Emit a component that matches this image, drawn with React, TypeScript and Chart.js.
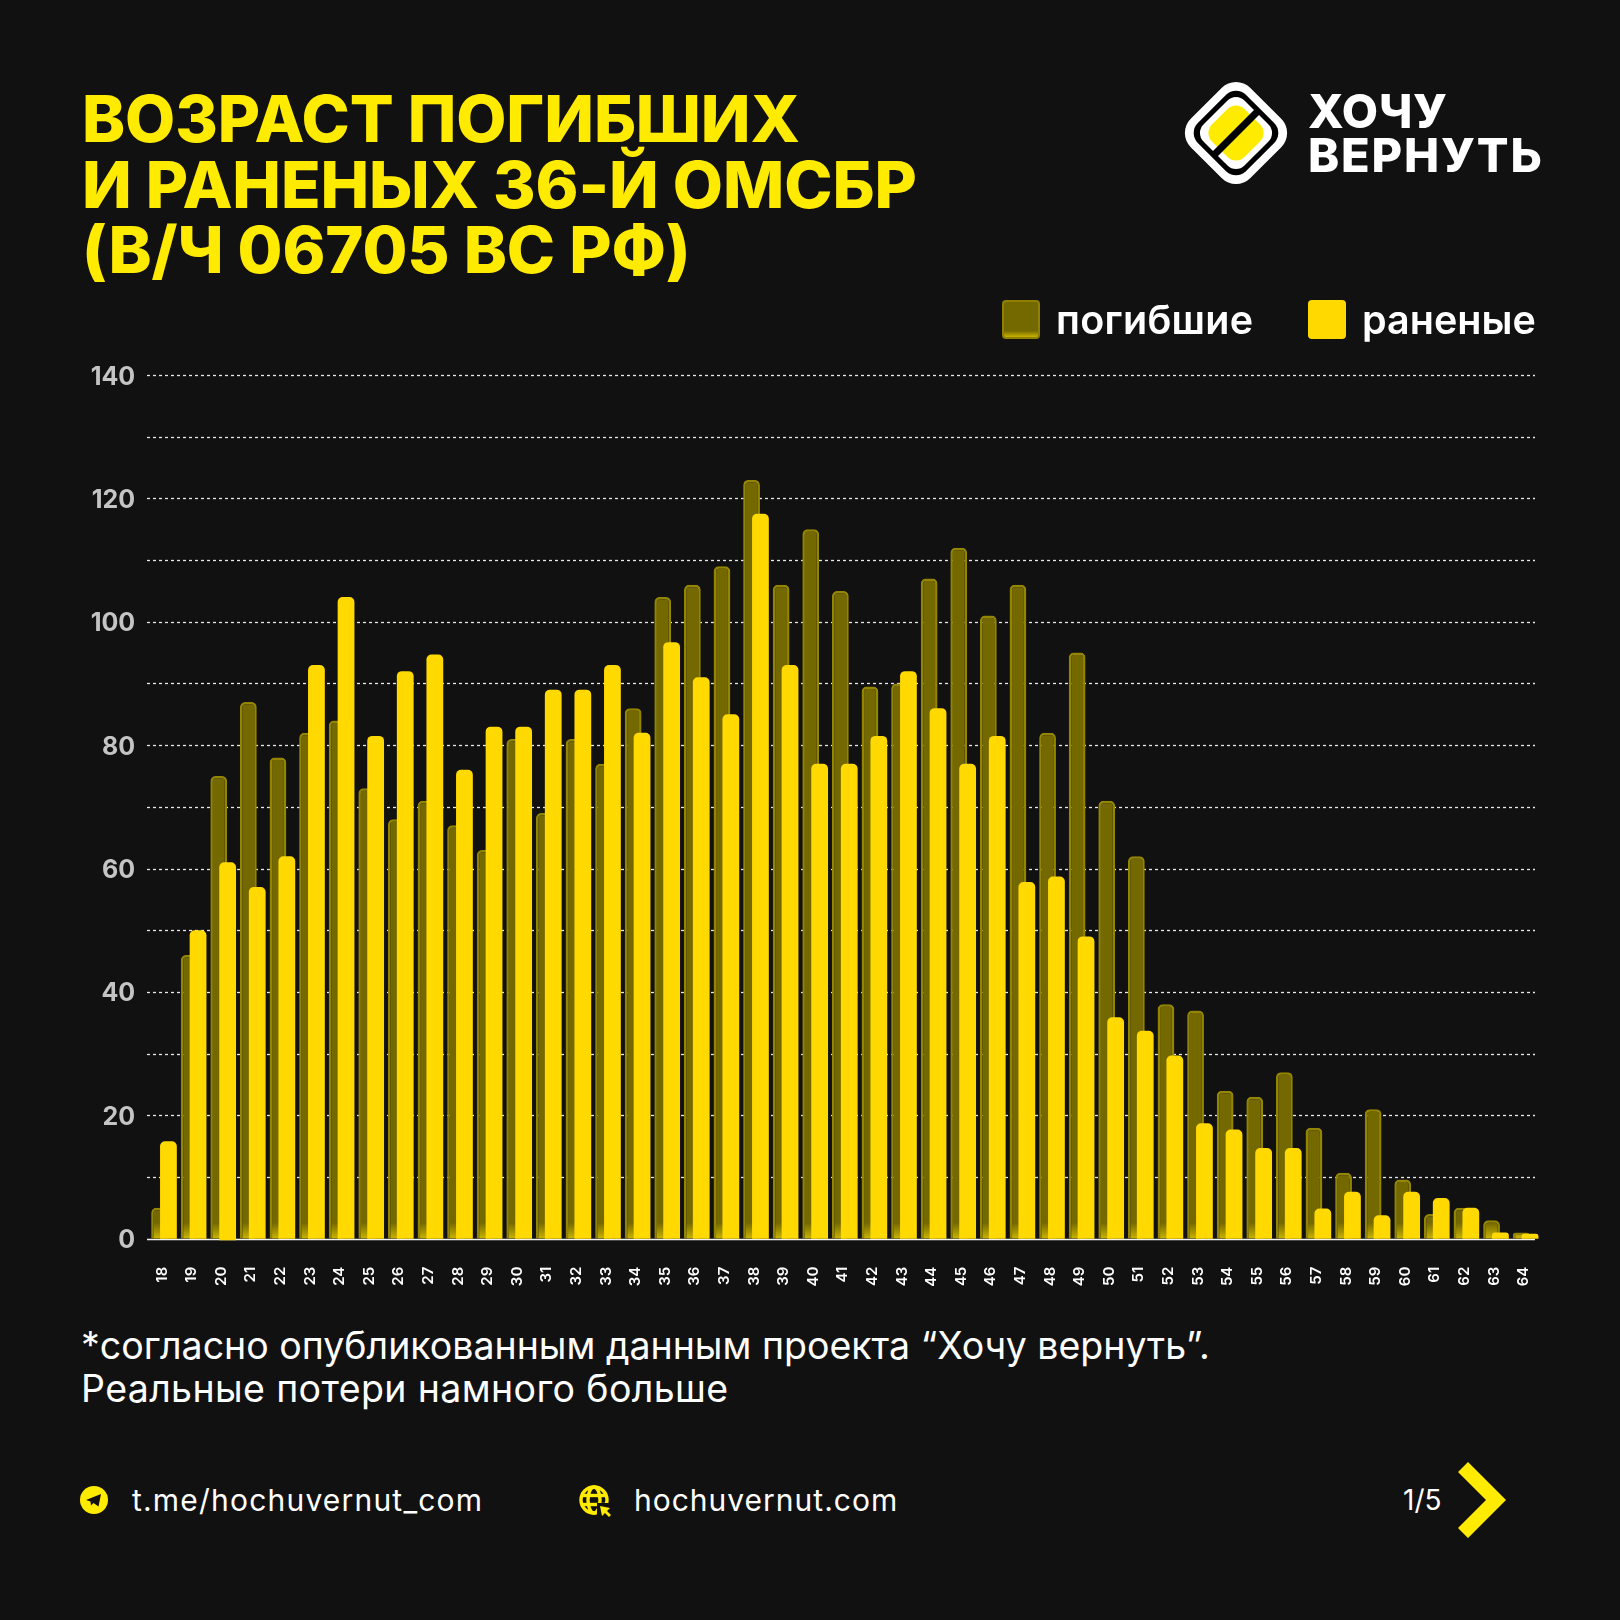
import React, { useEffect, useRef } from "react";
import { Chart, registerables } from "chart.js";

Chart.register(...registerables);

const ages = ["18","19","20","21","22","23","24","25","26","27","28","29","30","31","32","33","34","35","36","37","38","39","40","41","42","43","44","45","46","47","48","49","50","51","52","53","54","55","56","57","58","59","60","61","62","63","64"];
const killed = [5,46,75,87,78,82,84,73,68,71,67,63,81,69,81,77,86,104,106,109,123,106,115,105,89.5,90,107,112,101,106,82,95,71,62,38,37,24,23,27,18,10.7,21,9.6,4,5,3,1];
const wounded = [15.8,50,61,57,62,93,104,81.5,92,94.7,76,83,83,89,89,93,82,96.7,91,85,117.5,93,77,77,81.5,92,86,77,81.5,57.8,58.7,49,35.9,33.7,29.7,18.7,17.7,14.7,14.7,4.9,7.6,3.8,7.6,6.6,5,1,0.8];
const yTickStep = 10;
const yMax = 140;
const titleLines = ["ВОЗРАСТ ПОГИБШИХ", "И РАНЕНЫХ 36-Й ОМСБР", "(В/Ч 06705 ВС РФ)"];
const noteLines = ["*согласно опубликованным данным проекта “Хочу вернуть”.", "Реальные потери намного больше"];
const legendNames = ["погибшие", "раненые"];

const BG = "#111111";
const YELLOW = "#FFD900";
const TITLE_YELLOW = "#FFEB00";
const FONT = "Inter, 'Noto Sans', sans-serif";

const woundedBars = wounded.map((v, i) => (ages[i] === "20" ? [-0.25, v] : v));

const gridPlugin = {
  id: "shortGrid",
  beforeDatasetsDraw(chart: any) {
    const { ctx, scales } = chart;
    const y = scales.y;
    ctx.save();
    y.ticks.forEach((t: any) => {
      const py = Math.round(y.getPixelForValue(t.value)) + 0.5;
      ctx.beginPath();
      ctx.lineWidth = 1.3;
      if (t.value === 0) {
        ctx.setLineDash([]);
        ctx.strokeStyle = "#f2f2f2";
        ctx.lineWidth = 1.5;
      } else {
        ctx.setLineDash([3, 3]);
        ctx.strokeStyle = "#e8e8e8";
      }
      ctx.moveTo(147, py);
      ctx.lineTo(1535, py);
      ctx.stroke();
    });
    ctx.restore();
  },
  // Chart.js paints the first (left) dataset last; the wounded bars must stay on top.
  beforeDatasetDraw(_chart: any, args: any) {
    if (args.index === 1) return false;
  },
  afterDatasetsDraw(chart: any) {
    chart.getDatasetMeta(1).controller.draw();
  },
};

function Text({ style, children }: any) {
  return <div style={{ position: "absolute", whiteSpace: "nowrap", fontFamily: FONT, ...style }}>{children}</div>;
}

function Swatch({ left, dark }: { left: number; dark: boolean }) {
  return (
    <div
      style={{
        position: "absolute",
        left,
        top: 300,
        width: 38,
        height: 39,
        borderRadius: 4,
        boxSizing: "border-box",
        background: dark ? "linear-gradient(#746800 82%, #c9b400 100%)" : YELLOW,
        border: dark ? "2px solid #8f8000" : "none",
      }}
    />
  );
}

function LogoRect({ s, r, fill }: { s: number; r: number; fill: string }) {
  return <rect x={60 - s / 2} y={60 - s / 2} width={s} height={s} rx={r} transform="rotate(45 60 60)" fill={fill} />;
}

export default function App() {
  const ref = useRef<HTMLCanvasElement | null>(null);
  useEffect(() => {
    document.body.style.margin = "0";
    document.body.style.background = BG;
    const chart = new Chart(ref.current as HTMLCanvasElement, {
      type: "bar",
      data: {
        labels: ages,
        datasets: [
          {
            label: legendNames[0],
            data: killed,
            backgroundColor: (c: any) => {
              const area = c.chart.chartArea;
              if (!area) return "#746800";
              const g = c.chart.ctx.createLinearGradient(0, area.bottom - 16, 0, area.bottom);
              g.addColorStop(0, "#746800");
              g.addColorStop(1, "#c9b400");
              return g;
            },
            borderColor: "#948500",
            borderWidth: 2.5,
            borderSkipped: "bottom",
            borderRadius: { topLeft: 5, topRight: 5, bottomLeft: 0, bottomRight: 0 },
          },
          {
            label: legendNames[1],
            data: woundedBars,
            backgroundColor: YELLOW,
            borderWidth: 0,
            borderSkipped: false,
            borderRadius: { topLeft: 5, topRight: 5, bottomLeft: 0, bottomRight: 0 },
          },
        ],
      },
      options: {
        responsive: false,
        animation: false,
        devicePixelRatio: 1,
        layout: { padding: { left: 0, right: 79.6, top: 375, bottom: 0 } },
        datasets: { bar: { categoryPercentage: 0.6, barPercentage: 1.89 } },
        plugins: { legend: { display: false }, tooltip: { enabled: false } },
        scales: {
          x: {
            grid: { display: false },
            border: { display: false },
            afterFit: (s: any) => { s.height = 61.3; },
            ticks: {
              color: "#ffffff",
              font: { family: FONT, size: 15, weight: "600" },
              minRotation: 90,
              maxRotation: 90,
              autoSkip: false,
              padding: 20,
              labelOffset: -2,
            },
          },
          y: {
            min: 0,
            max: yMax,
            grid: { display: false },
            border: { display: false },
            afterFit: (s: any) => { s.width = 149.2; },
            ticks: {
              stepSize: yTickStep,
              autoSkip: false,
              color: "#c4c4c4",
              padding: 6,
              labelOffset: 2,
              font: { family: FONT, size: 25, weight: "700" },
              callback: (v: any) => (Number(v) % 20 === 0 ? String(v) : ""),
            },
          },
        },
      },
      plugins: [gridPlugin],
    } as any);
    return () => chart.destroy();
  }, []);

  return (
    <div style={{ position: "relative", width: 1620, height: 1620, background: BG, overflow: "hidden" }}>
      <canvas ref={ref} width={1620} height={1300} style={{ position: "absolute", left: 0, top: 0, display: "block" }} />

      {titleLines.map((t, i) => (
        <Text key={t} style={{ left: 82, top: 83 + i * 65.5, fontSize: 65, lineHeight: "72px", fontWeight: 800, color: TITLE_YELLOW, letterSpacing: -0.1 }}>{t}</Text>
      ))}

      <svg style={{ position: "absolute", left: 1176, top: 73 }} width={120} height={120} viewBox="0 0 120 120">
        <LogoRect s={84} r={20} fill="#fff" />
        <LogoRect s={68} r={14} fill="#000" />
        <LogoRect s={58} r={12} fill="#fff" />
        <LogoRect s={46} r={12} fill={TITLE_YELLOW} />
        <line x1={39} y1={81} x2={81} y2={39} stroke="#000" strokeWidth={7} />
      </svg>
      <Text style={{ left: 1308, top: 86, fontSize: 47, lineHeight: "50px", fontWeight: 800, color: "#fff", letterSpacing: 0.8 }}>ХОЧУ</Text>
      <Text style={{ left: 1308, top: 130, fontSize: 47, lineHeight: "50px", fontWeight: 800, color: "#fff", letterSpacing: 1.8 }}>ВЕРНУТЬ</Text>

      <Swatch left={1002} dark />
      <Text style={{ left: 1056, top: 298, fontSize: 39.5, lineHeight: "44px", fontWeight: 600, color: "#fff", letterSpacing: 0.3 }}>{legendNames[0]}</Text>
      <Swatch left={1308} dark={false} />
      <Text style={{ left: 1362, top: 298, fontSize: 39.5, lineHeight: "44px", fontWeight: 600, color: "#fff" }}>{legendNames[1]}</Text>

      {noteLines.map((t, i) => (
        <Text key={t} style={{ left: 81, top: 1322 + i * 43, fontSize: 37.5, lineHeight: "48px", fontWeight: 400, color: "#fff", letterSpacing: i === 1 ? 0.38 : 0 }}>{t}</Text>
      ))}

      <svg style={{ position: "absolute", left: 80, top: 1486 }} width={28} height={28} viewBox="0 0 28 28">
        <circle cx="14" cy="14" r="14" fill={TITLE_YELLOW} />
        <path d="M6 14 L21 8 L18.5 20.5 L13.5 17 L11 19.5 L10.5 15.5 Z" fill={BG} />
      </svg>
      <Text style={{ left: 132, top: 1480, fontSize: 30, lineHeight: "40px", color: "#fff", letterSpacing: 1.2 }}>t.me/hochuvernut_com</Text>

      <svg style={{ position: "absolute", left: 579, top: 1485 }} width={34} height={34} viewBox="0 0 34 34">
        <g fill="none" stroke={TITLE_YELLOW} strokeWidth={3.4}>
          <circle cx="15" cy="15" r="13" />
          <ellipse cx="15" cy="15" rx="6" ry="13" />
          <line x1="2" y1="10.5" x2="28" y2="10.5" />
          <line x1="2" y1="19.5" x2="28" y2="19.5" />
        </g>
        <rect x="18" y="18" width="16" height="16" fill={BG} />
        <path d="M21 21 L31 23 L28 26 L32 30 L30 32 L26 28 L23 31 Z" fill={TITLE_YELLOW} />
      </svg>
      <Text style={{ left: 634, top: 1480, fontSize: 30, lineHeight: "40px", color: "#fff", letterSpacing: 1.0 }}>hochuvernut.com</Text>

      <Text style={{ left: 1403, top: 1482, fontSize: 28, lineHeight: "36px", color: "#fff" }}>1/5</Text>
      <svg style={{ position: "absolute", left: 1456, top: 1460 }} width={54} height={80} viewBox="0 0 54 80">
        <polygon points="2,12 12,2 50,40 12,78 2,68 30,40" fill={TITLE_YELLOW} />
      </svg>
    </div>
  );
}
